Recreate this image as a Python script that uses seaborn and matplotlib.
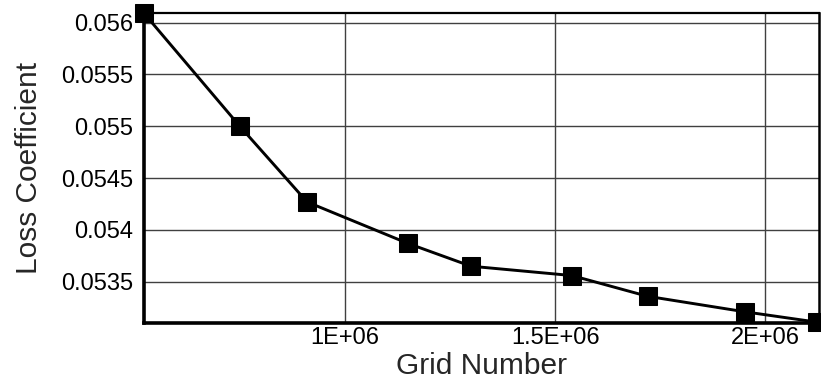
import numpy as np
import pandas as pd
import matplotlib
matplotlib.use("Agg")
import matplotlib.pyplot as plt
from matplotlib.ticker import MultipleLocator
import seaborn as sns

# Grid-independence study: loss coefficient versus mesh size
grid_number = [522000, 750000, 910000, 1150000, 1300000, 1540000, 1720000, 1952000, 2124000]
loss_coefficient = [0.05609, 0.05500, 0.05427, 0.05387, 0.05365, 0.05356, 0.05336, 0.05321, 0.05311]

x_ticks = [1.0e6, 1.5e6, 2.0e6]
x_tick_labels = ["1E+06", "1.5E+06", "2E+06"]
y_ticks = [0.0535, 0.054, 0.0545, 0.055, 0.0555, 0.056]
y_tick_labels = ["0.0535", "0.054", "0.0545", "0.055", "0.0555", "0.056"]

df = pd.DataFrame({"Grid Number": grid_number, "Loss Coefficient": loss_coefficient})

sns.set_style("white")
plt.rcParams["font.family"] = ["Liberation Sans", "DejaVu Sans"]

fig = plt.figure(figsize=(8.21, 3.83), dpi=100)
ax = fig.add_axes([0.1754, 0.1574, 0.8222, 0.8079])

sns.lineplot(data=df, x="Grid Number", y="Loss Coefficient", ax=ax,
             color="black", linewidth=2.1, marker="s", markersize=13,
             markeredgecolor="black", markerfacecolor="black", clip_on=False,
             zorder=5)

ax.set_xlim(522000, 2128000)
ax.set_ylim(0.053105, 0.05609)

ax.set_xticks(x_ticks)
ax.set_xticklabels(x_tick_labels)
ax.set_yticks(y_ticks)
ax.set_yticklabels(y_tick_labels)
ax.xaxis.set_minor_locator(MultipleLocator(100000))
ax.yaxis.set_minor_locator(MultipleLocator(0.0001))

ax.grid(True, which="major", color="#404040", linewidth=1.0)
ax.set_axisbelow(True)

ax.tick_params(axis="both", which="major", direction="in", length=9, width=1.3,
               labelsize=17, colors="black", pad=3)
ax.tick_params(axis="both", which="minor", direction="in", length=7, width=1.1,
               colors="black")
ax.tick_params(axis="y", which="major", pad=8)
ax.tick_params(top=False, right=False, which="both")

for side, lw in [("left", 2.6), ("bottom", 2.6), ("top", 1.6), ("right", 1.8)]:
    ax.spines[side].set_visible(True)
    ax.spines[side].set_color("black")
    ax.spines[side].set_linewidth(lw)

ax.set_xlabel("Grid Number", fontsize=21.5, labelpad=2)
ax.set_ylabel("Loss Coefficient", fontsize=21.5, labelpad=13)

fig.savefig("out.png", dpi=100)
